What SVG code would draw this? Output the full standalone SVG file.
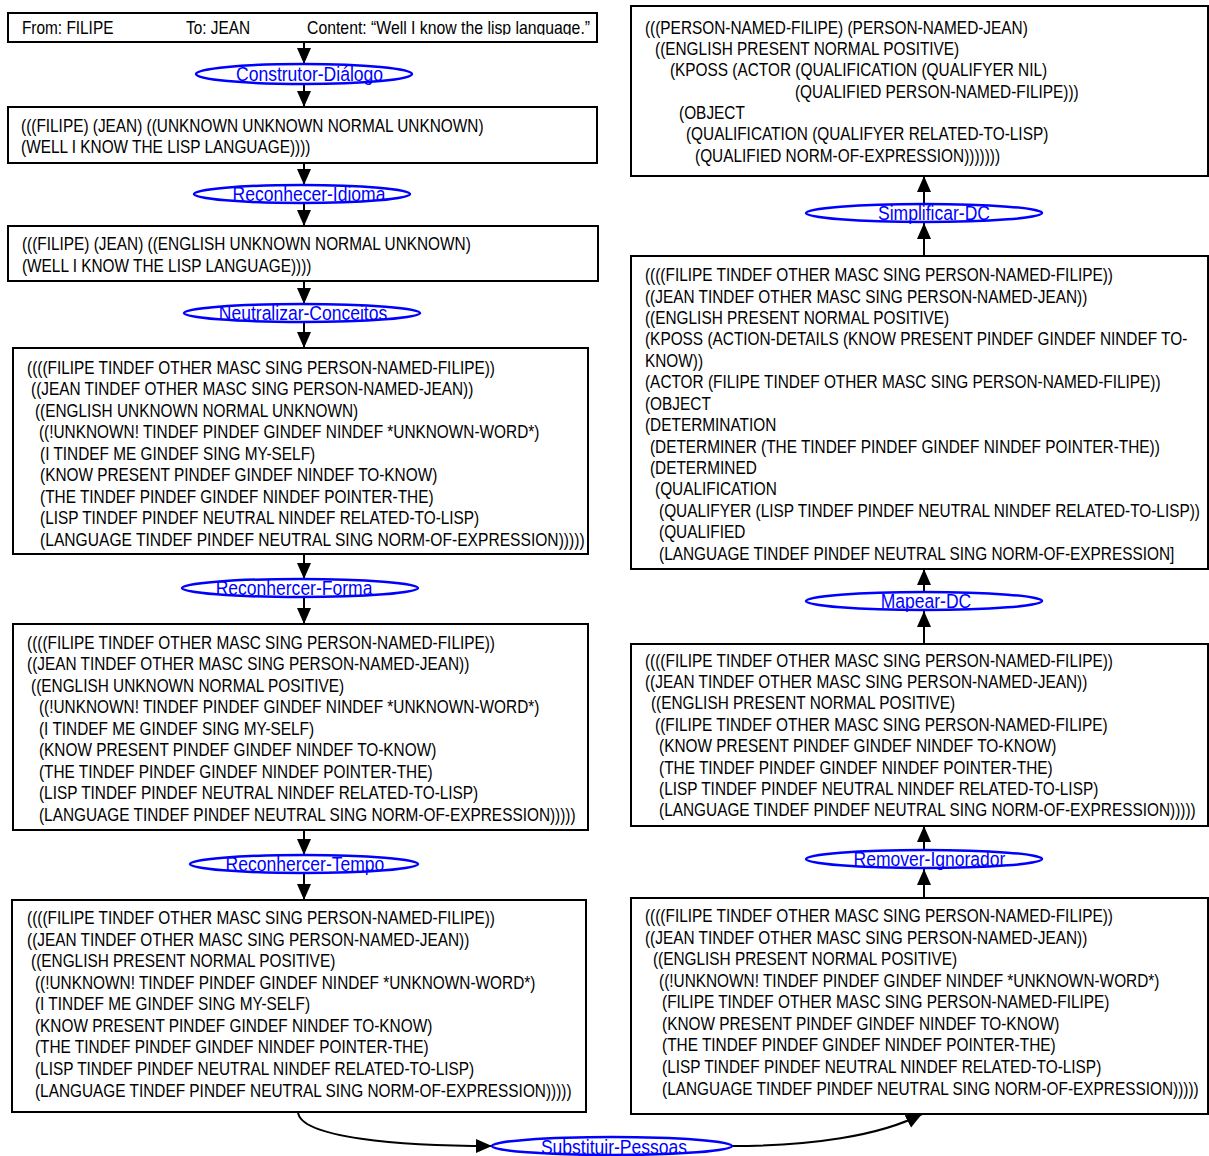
<svg xmlns="http://www.w3.org/2000/svg" width="1209" height="1156" viewBox="0 0 1209 1156">
  <style>
    .box { fill: #ffffff; stroke: #000000; stroke-width: 2; }
    .op { fill: #ffffff; stroke: #0000ff; stroke-width: 2.5; }
    .t { font-family: "Liberation Sans", Arial, sans-serif; font-size: 18px; fill: #000000; }
    .ol { font-family: "Liberation Sans", Arial, sans-serif; font-size: 20.5px; fill: #0000ff; text-anchor: middle; }
    .edge { fill: none; stroke: #000000; stroke-width: 2; marker-end: url(#arrow); }
  </style>
  <defs>
    <marker id="arrow" markerUnits="userSpaceOnUse" viewBox="0 0 16 16" refX="16" refY="8" markerWidth="16" markerHeight="16" orient="auto">
      <path d="M0,1 L16,8 L0,15 z" fill="#000000"/>
    </marker>
    <clipPath id="clipHead">
      <rect x="8" y="13" width="589" height="22"/>
    </clipPath>
  </defs>

  <g id="connectors">
    <!-- left column, top to bottom -->
    <path class="edge" d="M304,42 L304,64"/>
    <path class="edge" d="M304,84 L304,107"/>
    <path class="edge" d="M304,163 L304,185"/>
    <path class="edge" d="M304,203 L304,226"/>
    <path class="edge" d="M304,281 L304,304"/>
    <path class="edge" d="M304,322 L304,348"/>
    <path class="edge" d="M304,554 L304,579"/>
    <path class="edge" d="M304,597 L304,624"/>
    <path class="edge" d="M304,830 L304,855"/>
    <path class="edge" d="M304,873 L304,900"/>
    <!-- bottom crossing -->
    <path class="edge" d="M298,1112 C300,1138 400,1146 492,1146"/>
    <path class="edge" d="M732,1146 C810,1146 880,1136 922,1114"/>
    <!-- right column, bottom to top -->
    <path class="edge" d="M924,898 L924,869"/>
    <path class="edge" d="M924,850 L924,826"/>
    <path class="edge" d="M924,644 L924,611"/>
    <path class="edge" d="M924,592 L924,569"/>
    <path class="edge" d="M924,256 L924,223"/>
    <path class="edge" d="M924,204 L924,176"/>
  </g>

  <!-- all text is set in a narrowed face: x values below are divided by 0.855 -->
  <g id="message">
    <rect class="box" x="8" y="13" width="589" height="29"/>
    <g clip-path="url(#clipHead)">
      <g transform="scale(0.855,1)">
        <text class="t" x="25.7" y="34">From: FILIPE</text>
        <text class="t" x="217.5" y="34">To: JEAN</text>
        <text class="t" x="359.1" y="34" textLength="331" lengthAdjust="spacingAndGlyphs">Content: “Well I know the lisp language.”</text>
      </g>
    </g>
  </g>

  <g id="construtor-dialogo">
    <ellipse class="op" cx="304" cy="74" rx="108" ry="10"/>
    <text class="ol" transform="scale(0.855,1)" x="362" y="81">Construtor-Diálogo</text>
  </g>

  <g id="state-1">
    <rect class="box" x="8" y="107" width="589" height="56"/>
    <g transform="scale(0.855,1)">
      <text class="t" x="24.6" y="132">(((FILIPE) (JEAN) ((UNKNOWN UNKNOWN NORMAL UNKNOWN)</text>
      <text class="t" x="24.6" y="153">(WELL I KNOW THE LISP LANGUAGE))))</text>
    </g>
  </g>

  <g id="reconhecer-idioma">
    <ellipse class="op" cx="302" cy="194" rx="108" ry="9"/>
    <text class="ol" transform="scale(0.855,1)" x="361.4" y="201">Reconhecer-Idioma</text>
  </g>

  <g id="state-2">
    <rect class="box" x="8" y="226" width="590" height="55"/>
    <g transform="scale(0.855,1)">
      <text class="t" x="25.7" y="250">(((FILIPE) (JEAN) ((ENGLISH UNKNOWN NORMAL UNKNOWN)</text>
      <text class="t" x="25.7" y="272">(WELL I KNOW THE LISP LANGUAGE))))</text>
    </g>
  </g>

  <g id="neutralizar-conceitos">
    <ellipse class="op" cx="302" cy="313" rx="118" ry="9"/>
    <text class="ol" transform="scale(0.855,1)" x="354.4" y="320">Neutralizar-Conceitos</text>
  </g>

  <g id="state-3">
    <rect class="box" x="13" y="348" width="575" height="206"/>
    <g transform="scale(0.855,1)">
      <text class="t" x="31.6" y="374">((((FILIPE TINDEF OTHER MASC SING PERSON-NAMED-FILIPE))</text>
      <text class="t" x="36.3" y="395">((JEAN TINDEF OTHER MASC SING PERSON-NAMED-JEAN))</text>
      <text class="t" x="40.9" y="417">((ENGLISH UNKNOWN NORMAL UNKNOWN)</text>
      <text class="t" x="45.6" y="438">((!UNKNOWN! TINDEF PINDEF GINDEF NINDEF *UNKNOWN-WORD*)</text>
      <text class="t" x="46.8" y="460">(I TINDEF ME GINDEF SING MY-SELF)</text>
      <text class="t" x="46.8" y="481">(KNOW PRESENT PINDEF GINDEF NINDEF TO-KNOW)</text>
      <text class="t" x="46.8" y="503">(THE TINDEF PINDEF GINDEF NINDEF POINTER-THE)</text>
      <text class="t" x="46.8" y="524">(LISP TINDEF PINDEF NEUTRAL NINDEF RELATED-TO-LISP)</text>
      <text class="t" x="46.8" y="546" textLength="637" lengthAdjust="spacingAndGlyphs">(LANGUAGE TINDEF PINDEF NEUTRAL SING NORM-OF-EXPRESSION)))))</text>
    </g>
  </g>

  <g id="reconhercer-forma">
    <ellipse class="op" cx="300" cy="588" rx="118" ry="9"/>
    <text class="ol" transform="scale(0.855,1)" x="343.9" y="595">Reconhercer-Forma</text>
  </g>

  <g id="state-4">
    <rect class="box" x="13" y="624" width="575" height="206"/>
    <g transform="scale(0.855,1)">
      <text class="t" x="31.6" y="649">((((FILIPE TINDEF OTHER MASC SING PERSON-NAMED-FILIPE))</text>
      <text class="t" x="31.6" y="670">((JEAN TINDEF OTHER MASC SING PERSON-NAMED-JEAN))</text>
      <text class="t" x="36.3" y="692">((ENGLISH UNKNOWN NORMAL POSITIVE)</text>
      <text class="t" x="45.6" y="713">((!UNKNOWN! TINDEF PINDEF GINDEF NINDEF *UNKNOWN-WORD*)</text>
      <text class="t" x="45.6" y="735">(I TINDEF ME GINDEF SING MY-SELF)</text>
      <text class="t" x="45.6" y="756">(KNOW PRESENT PINDEF GINDEF NINDEF TO-KNOW)</text>
      <text class="t" x="45.6" y="778">(THE TINDEF PINDEF GINDEF NINDEF POINTER-THE)</text>
      <text class="t" x="45.6" y="799">(LISP TINDEF PINDEF NEUTRAL NINDEF RELATED-TO-LISP)</text>
      <text class="t" x="45.6" y="821">(LANGUAGE TINDEF PINDEF NEUTRAL SING NORM-OF-EXPRESSION)))))</text>
    </g>
  </g>

  <g id="reconhercer-tempo">
    <ellipse class="op" cx="304" cy="864" rx="114" ry="9"/>
    <text class="ol" transform="scale(0.855,1)" x="356.7" y="871">Reconhercer-Tempo</text>
  </g>

  <g id="state-5">
    <rect class="box" x="12" y="900" width="574" height="212"/>
    <g transform="scale(0.855,1)">
      <text class="t" x="31.6" y="924">((((FILIPE TINDEF OTHER MASC SING PERSON-NAMED-FILIPE))</text>
      <text class="t" x="31.6" y="946">((JEAN TINDEF OTHER MASC SING PERSON-NAMED-JEAN))</text>
      <text class="t" x="36.3" y="967">((ENGLISH PRESENT NORMAL POSITIVE)</text>
      <text class="t" x="40.9" y="989">((!UNKNOWN! TINDEF PINDEF GINDEF NINDEF *UNKNOWN-WORD*)</text>
      <text class="t" x="40.9" y="1010">(I TINDEF ME GINDEF SING MY-SELF)</text>
      <text class="t" x="40.9" y="1032">(KNOW PRESENT PINDEF GINDEF NINDEF TO-KNOW)</text>
      <text class="t" x="40.9" y="1053">(THE TINDEF PINDEF GINDEF NINDEF POINTER-THE)</text>
      <text class="t" x="40.9" y="1075">(LISP TINDEF PINDEF NEUTRAL NINDEF RELATED-TO-LISP)</text>
      <text class="t" x="40.9" y="1097">(LANGUAGE TINDEF PINDEF NEUTRAL SING NORM-OF-EXPRESSION)))))</text>
    </g>
  </g>

  <g id="substituir-pessoas">
    <ellipse class="op" cx="612" cy="1146" rx="120" ry="9"/>
    <text class="ol" transform="scale(0.855,1)" x="718.1" y="1154">Substituir-Pessoas</text>
  </g>

  <g id="state-6">
    <rect class="box" x="631" y="898" width="577" height="216"/>
    <g transform="scale(0.855,1)">
      <text class="t" x="754.4" y="922">((((FILIPE TINDEF OTHER MASC SING PERSON-NAMED-FILIPE))</text>
      <text class="t" x="754.4" y="944">((JEAN TINDEF OTHER MASC SING PERSON-NAMED-JEAN))</text>
      <text class="t" x="763.7" y="965">((ENGLISH PRESENT NORMAL POSITIVE)</text>
      <text class="t" x="770.8" y="987">((!UNKNOWN! TINDEF PINDEF GINDEF NINDEF *UNKNOWN-WORD*)</text>
      <text class="t" x="774.3" y="1008">(FILIPE TINDEF OTHER MASC SING PERSON-NAMED-FILIPE)</text>
      <text class="t" x="774.3" y="1030">(KNOW PRESENT PINDEF GINDEF NINDEF TO-KNOW)</text>
      <text class="t" x="774.3" y="1051">(THE TINDEF PINDEF GINDEF NINDEF POINTER-THE)</text>
      <text class="t" x="774.3" y="1073">(LISP TINDEF PINDEF NEUTRAL NINDEF RELATED-TO-LISP)</text>
      <text class="t" x="774.3" y="1095">(LANGUAGE TINDEF PINDEF NEUTRAL SING NORM-OF-EXPRESSION)))))</text>
    </g>
  </g>

  <g id="remover-ignorador">
    <ellipse class="op" cx="924" cy="859" rx="118" ry="9"/>
    <text class="ol" transform="scale(0.855,1)" x="1087.1" y="866">Remover-Ignorador</text>
  </g>

  <g id="state-7">
    <rect class="box" x="631" y="644" width="577" height="182"/>
    <g transform="scale(0.855,1)">
      <text class="t" x="754.4" y="667">((((FILIPE TINDEF OTHER MASC SING PERSON-NAMED-FILIPE))</text>
      <text class="t" x="754.4" y="688">((JEAN TINDEF OTHER MASC SING PERSON-NAMED-JEAN))</text>
      <text class="t" x="761.4" y="709">((ENGLISH PRESENT NORMAL POSITIVE)</text>
      <text class="t" x="766.1" y="731">((FILIPE TINDEF OTHER MASC SING PERSON-NAMED-FILIPE)</text>
      <text class="t" x="770.8" y="752">(KNOW PRESENT PINDEF GINDEF NINDEF TO-KNOW)</text>
      <text class="t" x="770.8" y="774">(THE TINDEF PINDEF GINDEF NINDEF POINTER-THE)</text>
      <text class="t" x="770.8" y="795">(LISP TINDEF PINDEF NEUTRAL NINDEF RELATED-TO-LISP)</text>
      <text class="t" x="770.8" y="816">(LANGUAGE TINDEF PINDEF NEUTRAL SING NORM-OF-EXPRESSION)))))</text>
    </g>
  </g>

  <g id="mapear-dc">
    <ellipse class="op" cx="924" cy="601" rx="118" ry="9"/>
    <text class="ol" transform="scale(0.855,1)" x="1083" y="608">Mapear-DC</text>
  </g>

  <g id="state-8">
    <rect class="box" x="631" y="256" width="577" height="313"/>
    <g transform="scale(0.855,1)">
      <text class="t" x="754.4" y="281">((((FILIPE TINDEF OTHER MASC SING PERSON-NAMED-FILIPE))</text>
      <text class="t" x="754.4" y="303">((JEAN TINDEF OTHER MASC SING PERSON-NAMED-JEAN))</text>
      <text class="t" x="754.4" y="324">((ENGLISH PRESENT NORMAL POSITIVE)</text>
      <text class="t" x="754.4" y="345">(KPOSS (ACTION-DETAILS (KNOW PRESENT PINDEF GINDEF NINDEF TO-</text>
      <text class="t" x="754.4" y="367">KNOW))</text>
      <text class="t" x="754.4" y="388">(ACTOR (FILIPE TINDEF OTHER MASC SING PERSON-NAMED-FILIPE))</text>
      <text class="t" x="754.4" y="410">(OBJECT</text>
      <text class="t" x="754.4" y="431">(DETERMINATION</text>
      <text class="t" x="760.2" y="453">(DETERMINER (THE TINDEF PINDEF GINDEF NINDEF POINTER-THE))</text>
      <text class="t" x="760.2" y="474">(DETERMINED</text>
      <text class="t" x="766.1" y="495">(QUALIFICATION</text>
      <text class="t" x="770.8" y="517">(QUALIFYER (LISP TINDEF PINDEF NEUTRAL NINDEF RELATED-TO-LISP))</text>
      <text class="t" x="770.8" y="538">(QUALIFIED</text>
      <text class="t" x="770.8" y="560">(LANGUAGE TINDEF PINDEF NEUTRAL SING NORM-OF-EXPRESSION]</text>
    </g>
  </g>

  <g id="simplificar-dc">
    <ellipse class="op" cx="924" cy="213" rx="118" ry="9"/>
    <text class="ol" transform="scale(0.855,1)" x="1092.4" y="220">Simplificar-DC</text>
  </g>

  <g id="result">
    <rect class="box" x="631" y="6" width="577" height="170"/>
    <g transform="scale(0.855,1)">
      <text class="t" x="754.4" y="34">(((PERSON-NAMED-FILIPE) (PERSON-NAMED-JEAN)</text>
      <text class="t" x="766.1" y="55">((ENGLISH PRESENT NORMAL POSITIVE)</text>
      <text class="t" x="783.6" y="76">(KPOSS (ACTOR (QUALIFICATION (QUALIFYER NIL)</text>
      <text class="t" x="929.8" y="98">(QUALIFIED PERSON-NAMED-FILIPE)))</text>
      <text class="t" x="794.2" y="119">(OBJECT</text>
      <text class="t" x="802.3" y="140">(QUALIFICATION (QUALIFYER RELATED-TO-LISP)</text>
      <text class="t" x="812.9" y="162">(QUALIFIED NORM-OF-EXPRESSION)))))))</text>
    </g>
  </g>
</svg>
